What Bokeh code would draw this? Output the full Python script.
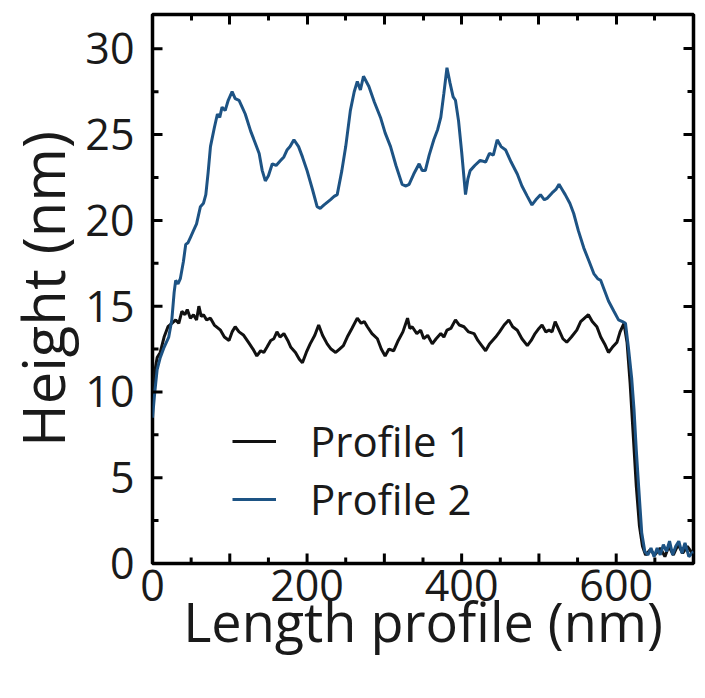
import math
from bokeh.plotting import figure
from bokeh.models import Range1d, LinearAxis, FixedTicker, Legend, LegendItem
from bokeh.embed import file_html
from bokeh.resources import INLINE

# ---- data (length in nm, height in nm) ----
profile1_x = [0, 3, 6, 10, 15, 20, 25, 30, 34, 38, 42, 45, 49, 53, 57, 60, 63, 66, 70, 75, 80,
              88, 93, 99, 103, 107, 112, 118, 124, 130, 135, 140, 144, 148, 153, 157, 161, 165,
              170, 175, 179, 185, 190, 194, 199, 204, 210, 215, 220, 226, 231, 237, 242, 247,
              252, 258, 265, 270, 274, 278, 284, 291, 296, 301, 306, 312, 318, 324, 330, 333,
              336, 342, 347, 351, 356, 362, 367, 373, 377, 381, 386, 392, 397, 403, 409, 416,
              421, 426, 431, 436, 440, 444, 449, 455, 461, 466, 472, 478, 485, 490, 495, 500,
              504, 509, 513, 517, 521, 526, 531, 536, 542, 549, 554, 559, 564, 569, 575, 580,
              585, 590, 595, 601, 605, 610, 614, 618, 622, 626, 630, 634, 638, 644, 650, 657,
              663, 668, 674, 680, 686, 692, 700]
profile1_y = [10.0, 11.2, 12.0, 12.3, 13.2, 13.8, 14.0, 14.2, 14.0, 14.7, 14.5, 14.8, 14.3, 14.5,
              14.2, 15.0, 14.4, 14.5, 14.2, 14.3, 13.9, 13.6, 13.2, 13.0, 13.5, 13.8, 13.5, 13.3,
              12.9, 12.5, 12.1, 12.4, 12.3, 12.6, 13.0, 13.1, 13.5, 13.2, 13.4, 13.0, 12.6, 12.3,
              11.9, 11.7, 12.3, 12.8, 13.3, 13.9, 13.3, 12.8, 12.5, 12.3, 12.5, 12.7, 13.2, 13.7,
              14.3, 14.0, 14.1, 13.8, 13.4, 13.1, 12.5, 12.1, 12.5, 12.4, 13.0, 13.5, 14.3, 13.7,
              13.8, 13.4, 13.6, 13.1, 13.3, 12.8, 13.1, 13.4, 13.2, 13.6, 13.7, 14.2, 13.9, 13.8,
              13.5, 13.4, 13.0, 12.7, 12.4, 12.8, 13.0, 13.2, 13.5, 13.9, 14.2, 13.8, 13.6, 13.1,
              12.7, 13.0, 13.4, 13.7, 13.9, 13.5, 13.6, 13.5, 14.1, 13.6, 13.1, 12.9, 13.2, 13.6,
              14.1, 14.3, 14.5, 14.1, 13.8, 13.2, 12.8, 12.3, 12.6, 12.9, 13.5, 14.0, 12.9, 10.5,
              7.5, 4.5, 2.2, 1.0, 0.5, 0.8, 0.5, 0.9, 0.4, 1.0, 0.5, 1.1, 0.6, 1.0, 0.5]

profile2_x = [0, 3, 6, 10, 15, 21, 25, 28, 30, 33, 36, 40, 43, 46, 49, 53, 57, 62, 66, 69, 72,
              75, 80, 84, 87, 90, 94, 98, 103, 107, 112, 116, 120, 127, 133, 138, 142, 146, 150,
              155, 160, 166, 170, 174, 178, 183, 189, 194, 200, 207, 213, 217, 222, 230, 235,
              239, 245, 250, 256, 261, 265, 269, 273, 280, 287, 295, 301, 308, 315, 323, 328,
              332, 338, 345, 349, 353, 358, 364, 369, 373, 377, 381, 385, 389, 392, 396, 400,
              405, 408, 411, 417, 424, 431, 436, 441, 446, 451, 457, 464, 472, 478, 485, 491,
              496, 502, 507, 511, 517, 522, 526, 530, 534, 540, 545, 551, 558, 565, 571, 576,
              580, 585, 590, 597, 603, 608, 612, 616, 620, 623, 626, 629, 633, 637, 641, 645,
              649, 653, 657, 661, 665, 669, 673, 677, 681, 685, 689, 694, 700]
profile2_y = [8.5, 10.0, 11.3, 12.0, 12.6, 13.2, 14.2, 15.8, 16.5, 16.3, 16.6, 17.6, 18.6, 18.7,
              19.0, 19.4, 19.8, 20.8, 21.0, 21.5, 22.8, 24.3, 25.4, 26.2, 26.0, 26.6, 26.4, 27.0,
              27.5, 27.1, 27.0, 26.6, 26.2, 25.2, 24.5, 23.9, 22.9, 22.3, 22.6, 23.3, 23.2, 23.5,
              23.7, 24.1, 24.3, 24.7, 24.3, 23.7, 22.9, 21.8, 20.8, 20.7, 20.9, 21.2, 21.4, 21.5,
              22.9, 24.3, 26.4, 27.5, 28.1, 27.6, 28.4, 27.8, 26.9, 26.0, 25.1, 24.3, 23.2, 22.1,
              22.0, 22.1, 22.7, 23.3, 22.9, 22.9, 23.8, 24.7, 25.3, 26.0, 27.4, 28.9, 28.0, 27.2,
              27.0, 25.8, 24.0, 21.5, 22.4, 22.9, 23.2, 23.5, 23.4, 23.9, 23.8, 24.7, 24.3, 24.1,
              23.4, 22.7, 22.0, 21.4, 20.9, 21.2, 21.5, 21.2, 21.3, 21.6, 21.8, 22.1, 21.8, 21.5,
              21.0, 20.4, 19.4, 18.4, 17.6, 16.9, 16.6, 16.5, 15.9, 15.3, 14.7, 14.2, 14.1, 14.0,
              12.5, 10.8, 9.0, 6.6, 4.5, 1.8, 0.7, 0.5, 0.9, 0.4, 0.9, 0.5, 1.1, 0.7, 1.3, 0.5,
              1.0, 1.3, 0.6, 1.2, 0.4, 0.7]

x_major_ticks = [0, 100, 200, 300, 400, 500, 600, 700]
x_minor_ticks = [50, 150, 250, 350, 450, 550, 650]
x_tick_labels = {100: "", 300: "", 500: "", 700: ""}
y_major_ticks = [0, 5, 10, 15, 20, 25, 30]
y_minor_ticks = [2.5, 7.5, 12.5, 17.5, 22.5, 27.5]

series_names = ["Profile 1", "Profile 2"]
series_colors = ["#111111", "#1d5384"]

FONT = "Open Sans"
TXT = "#1a1a1a"
MAJOR_LEN, MINOR_LEN = 10, 6

X0, X1, Y0, Y1 = 0, 700, 0, 32

p = figure(width=705, height=698, output_backend="svg", toolbar_location=None,
           x_range=Range1d(X0, X1), y_range=Range1d(Y0, Y1),
           min_border_left=152, min_border_right=12, min_border_top=14, min_border_bottom=135,
           background_fill_color=None, border_fill_color=None)

p.xgrid.visible = False
p.ygrid.visible = False
p.outline_line_color = "black"
p.outline_line_width = 3.5

r1 = p.line(profile1_x, profile1_y, line_color=series_colors[0], line_width=3)
r2 = p.line(profile2_x, profile2_y, line_color=series_colors[1], line_width=3)

# inward tick marks on the left and bottom edges: centred dashes, half clipped by the frame
for ticks, ln in ((y_major_ticks, MAJOR_LEN), (y_minor_ticks, MINOR_LEN)):
    p.scatter([X0] * len(ticks), ticks, marker="dash", size=2 * ln,
              line_color="black", line_width=3)
for ticks, ln in ((x_major_ticks, MAJOR_LEN), (x_minor_ticks, MINOR_LEN)):
    p.scatter(ticks, [Y0] * len(ticks), marker="dash", size=2 * ln, angle=math.pi / 2,
              line_color="black", line_width=3)


def no_ticks(ax):
    ax.axis_line_color = None
    ax.major_tick_in = 0
    ax.major_tick_out = 0
    ax.minor_tick_in = 0
    ax.minor_tick_out = 0
    ax.major_tick_line_color = None
    ax.minor_tick_line_color = None


def tick_axis(positions, length):
    # unlabeled axis drawing only inward tick marks
    ax = LinearAxis(ticker=FixedTicker(ticks=[], minor_ticks=positions))
    ax.axis_line_color = None
    ax.major_tick_in = 0
    ax.major_tick_out = 0
    ax.minor_tick_in = length
    ax.minor_tick_out = 0
    ax.minor_tick_line_width = 3
    ax.minor_tick_line_color = "black"
    ax.major_label_standoff = 0
    ax.axis_label_standoff = 0
    return ax


xa = p.xaxis[0]
xa.ticker = FixedTicker(ticks=x_major_ticks, minor_ticks=x_minor_ticks)
xa.major_label_overrides = x_tick_labels
no_ticks(xa)
xa.major_label_text_font = FONT
xa.major_label_text_font_size = "43px"
xa.major_label_text_color = TXT
xa.major_label_standoff = 6
xa.axis_label = "Length profile (nm)"
xa.axis_label_text_font = FONT
xa.axis_label_text_font_size = "54px"
xa.axis_label_text_font_style = "normal"
xa.axis_label_text_color = TXT
xa.axis_label_standoff = -20

ya = p.yaxis[0]
ya.ticker = FixedTicker(ticks=y_major_ticks, minor_ticks=y_minor_ticks)
no_ticks(ya)
ya.major_label_text_font = FONT
ya.major_label_text_font_size = "43px"
ya.major_label_text_color = TXT
ya.major_label_standoff = 18
ya.axis_label = "Height (nm)"
ya.axis_label_text_font = FONT
ya.axis_label_text_font_size = "58px"
ya.axis_label_text_font_style = "normal"
ya.axis_label_text_color = TXT
ya.axis_label_standoff = 0

p.add_layout(tick_axis(y_major_ticks, MAJOR_LEN), "right")
p.add_layout(tick_axis(y_minor_ticks, MINOR_LEN), "right")
p.add_layout(tick_axis(x_major_ticks, MAJOR_LEN), "above")
p.add_layout(tick_axis(x_minor_ticks, MINOR_LEN), "above")

leg_kw = dict(background_fill_alpha=0, border_line_color=None,
              label_text_font=FONT, label_text_font_size="42px", label_text_color=TXT,
              glyph_width=44, glyph_height=20, label_standoff=34, spacing=0,
              padding=0, margin=0)
legend1 = Legend(items=[LegendItem(label=series_names[0], renderers=[r1])],
                 location=(80, 94), **leg_kw)
legend2 = Legend(items=[LegendItem(label=series_names[1], renderers=[r2])],
                 location=(80, 36), **leg_kw)
p.add_layout(legend1)
p.add_layout(legend2)

open("out.html", "w").write(file_html(p, INLINE))
